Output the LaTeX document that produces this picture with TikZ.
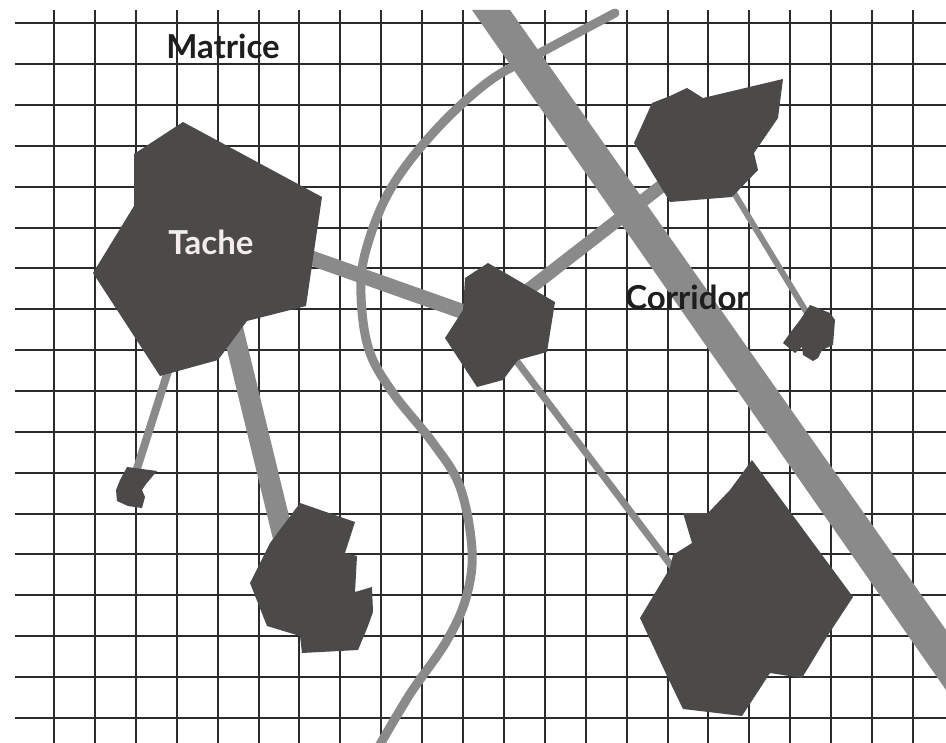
\documentclass[tikz,border=0pt]{standalone}
\usepackage{fontspec}
\setmainfont{Lato}
\definecolor{patch}{HTML}{4B4A49}
\definecolor{linkc}{HTML}{8B8A8A}
\definecolor{gridc}{HTML}{2B2B2B}
\definecolor{tachetxt}{HTML}{F4ECEC}
\definecolor{labeltxt}{HTML}{1E1E1E}
\begin{document}
\begin{tikzpicture}[x=1pt,y=-1pt,
  gridline/.style={draw=gridc,line width=2pt},
  patchfill/.style={fill=patch,draw=none},
  linkband/.style={draw=linkc,line cap=butt},
  river/.style={draw=linkc,line width=9pt,line cap=round,line join=round},
  lbl/.style={font=\fontsize{33}{40}\selectfont\bfseries,inner sep=0pt,anchor=base}]
\useasboundingbox (0,0) rectangle (946,743);
\fill[white] (0,0) rectangle (946,743);
% grid (matrice)
\foreach \i in {0,...,21} \draw[gridline] ({54+40.9*\i},10) -- ({54+40.9*\i},743);
\foreach \j in {0,...,17} \draw[gridline] (15,{23.3+40.86*\j}) -- (946,{23.3+40.86*\j});
% corridor band
\fill[linkc] (472,10) -- (510,10) -- (946,630) -- (946,690) -- cycle;
% river-like curve
\draw[river] plot[smooth,tension=0.6] coordinates {(615,13) (540,53) (488,82) (433,133) (390,190) (366,250) (361,295) (369,350) (393,393) (433,443) (460,487) (472,550) (466,598) (446,642) (410,694) (378,748)};
% link end coordinates
\coordinate (l1a) at (300,254); \coordinate (l1b) at (478,317);
\coordinate (l2a) at (515,300); \coordinate (l2b) at (672,178);
\coordinate (l3a) at (731,188); \coordinate (l3b) at (810,318);
\coordinate (l4a) at (512,355); \coordinate (l4b) at (676,572);
\coordinate (l5a) at (170,365); \coordinate (l5b) at (134,478);
\coordinate (l6a) at (231,322); \coordinate (l6b) at (284,540);
\draw[linkband,line width=15pt] (l1a) -- (l1b);
\draw[linkband,line width=13pt] (l2a) -- (l2b);
\draw[linkband,line width=6pt] (l3a) -- (l3b);
\draw[linkband,line width=7pt] (l4a) -- (l4b);
\draw[linkband,line width=8pt] (l5a) -- (l5b);
\draw[linkband,line width=21pt] (l6a) -- (l6b);
% patches (taches)
\fill[patchfill] (183,122) -- (322,197) -- (306,306) -- (247,321) -- (218,360) -- (160,376) -- (93,273) -- (134,206) -- (134,154) -- cycle;
\fill[patchfill] (488,263) -- (555,302) -- (547,352) -- (518,360) -- (503,380) -- (477,387) -- (445,338) -- (463,310) -- (465,278) -- cycle;
\fill[patchfill] (687,88) -- (703,98) -- (783,79) -- (778,118) -- (754,153) -- (758,170) -- (732,197) -- (670,202) -- (634,143) -- (652,103) -- (670,96) -- cycle;
\fill[patchfill] (810,305) -- (830,313) -- (835,320) -- (833,345) -- (822,350) -- (818,358) -- (813,361) -- (803,355) -- (802,347) -- (795,353) -- (783,343) -- (790,333) -- (800,320) -- cycle;
\fill[patchfill] (752,460) -- (853,597) -- (828,635) -- (802,678) -- (770,673) -- (742,716) -- (683,709) -- (668,678) -- (640,618) -- (670,568) -- (673,555) -- (692,543) -- (683,513) -- (708,513) -- (730,490) -- cycle;
\fill[patchfill] (127,467) -- (157,471) -- (146,484) -- (142,490) -- (145,497) -- (142,508) -- (128,506) -- (117,501) -- (116,490) -- (120,480) -- cycle;
\fill[patchfill] (300,503) -- (355,522) -- (345,553) -- (357,556) -- (355,592) -- (372,587) -- (373,612) -- (368,626) -- (358,650) -- (302,653) -- (300,636) -- (267,626) -- (250,583) -- (270,543) -- cycle;
% labels
\node[lbl,text=labeltxt] (matrice) at (223,59) {Matrice};
\node[lbl,text=tachetxt] (tache) at (211,255) {Tache};
\node[lbl,text=labeltxt] (corridor) at (687,310) {Corridor};
\end{tikzpicture}
\end{document}
